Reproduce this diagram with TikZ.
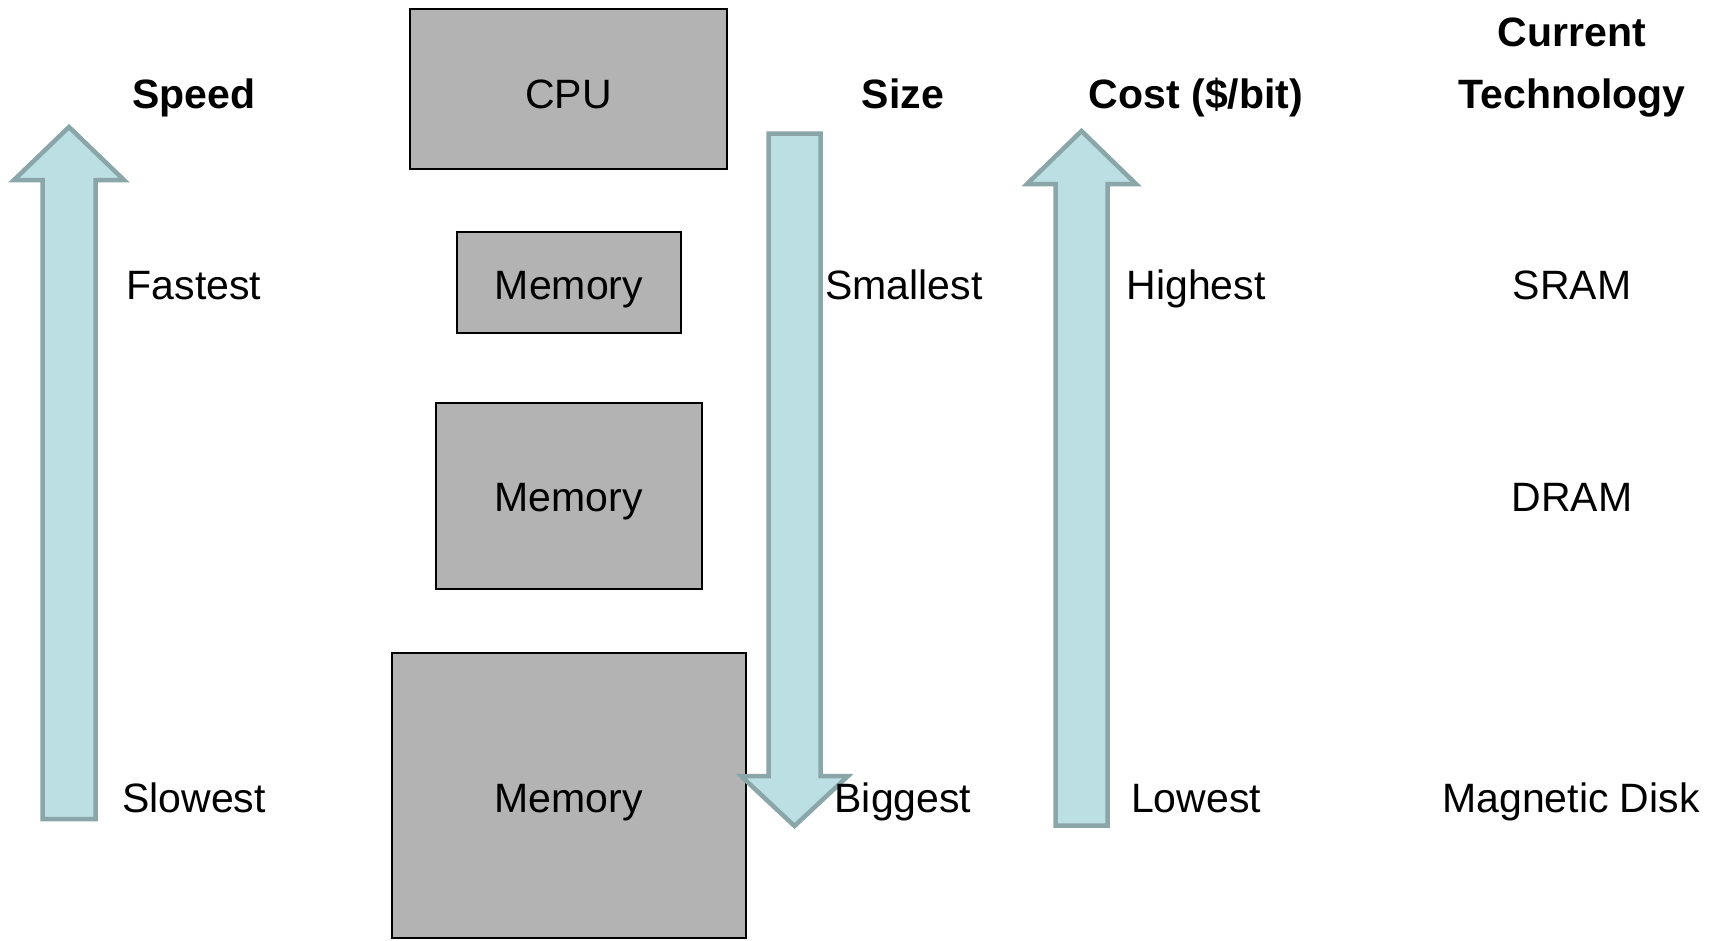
\documentclass[tikz,border=0pt]{standalone}
\usepackage{fontspec}
\setmainfont{Liberation Sans}
\definecolor{arrfill}{HTML}{BCDFE3}
\definecolor{arrline}{HTML}{8AA6A9}
\definecolor{boxfill}{HTML}{B3B3B3}
\begin{document}
\begin{tikzpicture}[x=1pt,y=-1pt,
  every node/.style={inner sep=0pt,outer sep=0pt},
  lbl/.style={anchor=base,font=\fontsize{41}{49}\selectfont},
  hdr/.style={anchor=base,font=\fontsize{41}{49}\selectfont\bfseries},
  membox/.style={draw=black,line width=2pt,fill=boxfill},
  blockarrow/.style={draw=arrline,fill=arrfill,line width=4.5pt,line join=miter}]
\useasboundingbox (0,0) rectangle (1720,940);
% boxes
\node[membox,minimum width=317pt,minimum height=160pt] (cpu) at (568.5,89) {};
\node[membox,minimum width=224pt,minimum height=101pt] (mem1) at (569,282.5) {};
\node[membox,minimum width=266pt,minimum height=186pt] (mem2) at (568.5,496) {};
\node[membox,minimum width=354pt,minimum height=285pt] (mem3) at (568.5,795.5) {};
% arrows
\draw[blockarrow] (42.5,819) -- (42.5,180) -- (14,180) -- (69,127) -- (124,180) -- (95.5,180) -- (95.5,819) -- cycle;
\draw[blockarrow] (768.5,133.5) -- (820.5,133.5) -- (820.5,776) -- (848,776) -- (794.5,826) -- (741,776) -- (768.5,776) -- cycle;
\draw[blockarrow] (1055.5,825.5) -- (1055.5,184) -- (1027,184) -- (1081.5,131) -- (1136,184) -- (1107.5,184) -- (1107.5,825.5) -- cycle;
% headers
\node[hdr] (speed) at (194,108) {Speed};
\node[lbl] (cputxt) at (568.5,108) {CPU};
\node[hdr] (size) at (903,108) {Size};
\node[hdr] (cost) at (1196,108) {Cost (\$/bit)};
\node[hdr] (current) at (1572,46) {Current};
\node[hdr] (tech) at (1572,108) {Technology};
% row 2
\node[lbl] (fastest) at (194,299) {Fastest};
\node[lbl] (m1txt) at (569,299) {Memory};
\node[lbl] (smallest) at (904,299) {Smallest};
\node[lbl] (highest) at (1196,299) {Highest};
\node[lbl] (sram) at (1572,299) {SRAM};
% row 3
\node[lbl] (m2txt) at (568.5,511) {Memory};
\node[lbl] (dram) at (1572,511) {DRAM};
% row 4
\node[lbl] (slowest) at (194,812) {Slowest};
\node[lbl] (m3txt) at (568.5,812) {Memory};
\node[lbl] (biggest) at (903,812) {Biggest};
\node[lbl] (lowest) at (1196,812) {Lowest};
\node[lbl] (disk) at (1571,812) {Magnetic Disk};
\end{tikzpicture}
\end{document}
